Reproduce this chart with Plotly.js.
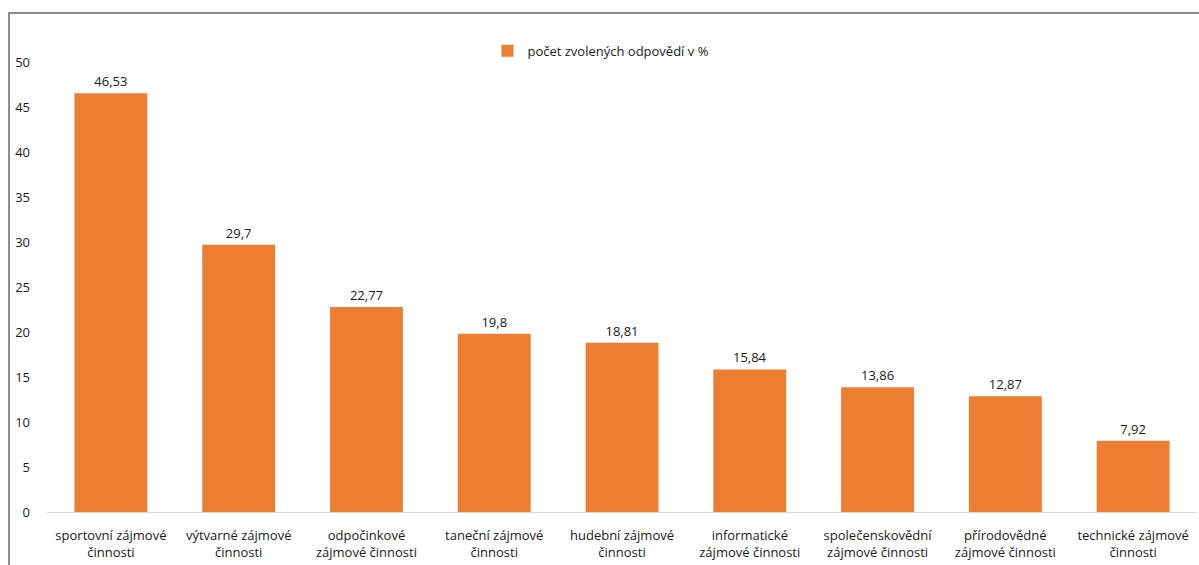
<!DOCTYPE html>
<html>
<head>
<meta charset="utf-8">
<script src="https://cdn.plot.ly/plotly-3.0.1.min.js"></script>
<style>
html,body{margin:0;padding:0;background:#fff;}
#chart{width:1199px;height:565px;}
</style>
</head>
<body>
<div id="chart"></div>
<script>
const categories = [
  "sportovní zájmové<br>činnosti",
  "výtvarné zájmové<br>činnosti",
  "odpočinkové<br>zájmové činnosti",
  "taneční zájmové<br>činnosti",
  "hudební zájmové<br>činnosti",
  "informatické<br>zájmové činnosti",
  "společenskovědní<br>zájmové činnosti",
  "přírodovědné<br>zájmové činnosti",
  "technické zájmové<br>činnosti"
];
const values = [46.53, 29.7, 22.77, 19.8, 18.81, 15.84, 13.86, 12.87, 7.92];
const seriesName = "počet zvolených odpovědí v %";
const yTicks = [0, 5, 10, 15, 20, 25, 30, 35, 40, 45, 50];

const labels = values.map(v => String(v).replace('.', ','));
const fontFam = "'Open Sans', 'Noto Sans', sans-serif";

const trace = {
  type: 'bar',
  x: categories,
  y: values,
  name: seriesName,
  marker: {color: '#ED7D31'},
  text: labels,
  textposition: 'outside',
  textfont: {size: 13, color: '#1a1a1a', family: fontFam},
  cliponaxis: false,
  hoverinfo: 'none'
};

const layout = {
  width: 1199, height: 565,
  margin: {l: 47, r: 2, t: 62, b: 53},
  paper_bgcolor: '#fff', plot_bgcolor: '#fff',
  bargap: 0.43,
  showlegend: true,
  legend: {
    orientation: 'h', x: 0.383, y: 1.058, xanchor: 'left', yanchor: 'top',
    font: {size: 13, color: '#1a1a1a', family: fontFam},
    itemwidth: 30, bgcolor: 'rgba(0,0,0,0)'
  },
  font: {family: fontFam, color: '#1a1a1a'},
  xaxis: {
    showline: true, linecolor: '#d9d9d9', linewidth: 1,
    ticks: '', tickfont: {size: 13, color: '#1a1a1a', family: fontFam},
    tickangle: 0, showgrid: false, zeroline: false,
    ticklabelstandoff: 11
  },
  yaxis: {
    range: [0, 50], tickvals: yTicks, ticktext: yTicks.map(String),
    showgrid: false, zeroline: false, showline: false, ticks: '',
    tickfont: {size: 13, color: '#1a1a1a', family: fontFam},
    ticklabelstandoff: 16
  },
  shapes: [{
    type: 'rect', xref: 'paper', yref: 'paper',
    x0: -0.033, x1: 1.1, y0: -0.3, y1: 1.109,
    line: {color: '#8c8c8c', width: 2}, fillcolor: 'rgba(0,0,0,0)', layer: 'below'
  }]
};

Plotly.newPlot('chart', [trace], layout, {displayModeBar: false, staticPlot: true});
</script>
</body>
</html>
